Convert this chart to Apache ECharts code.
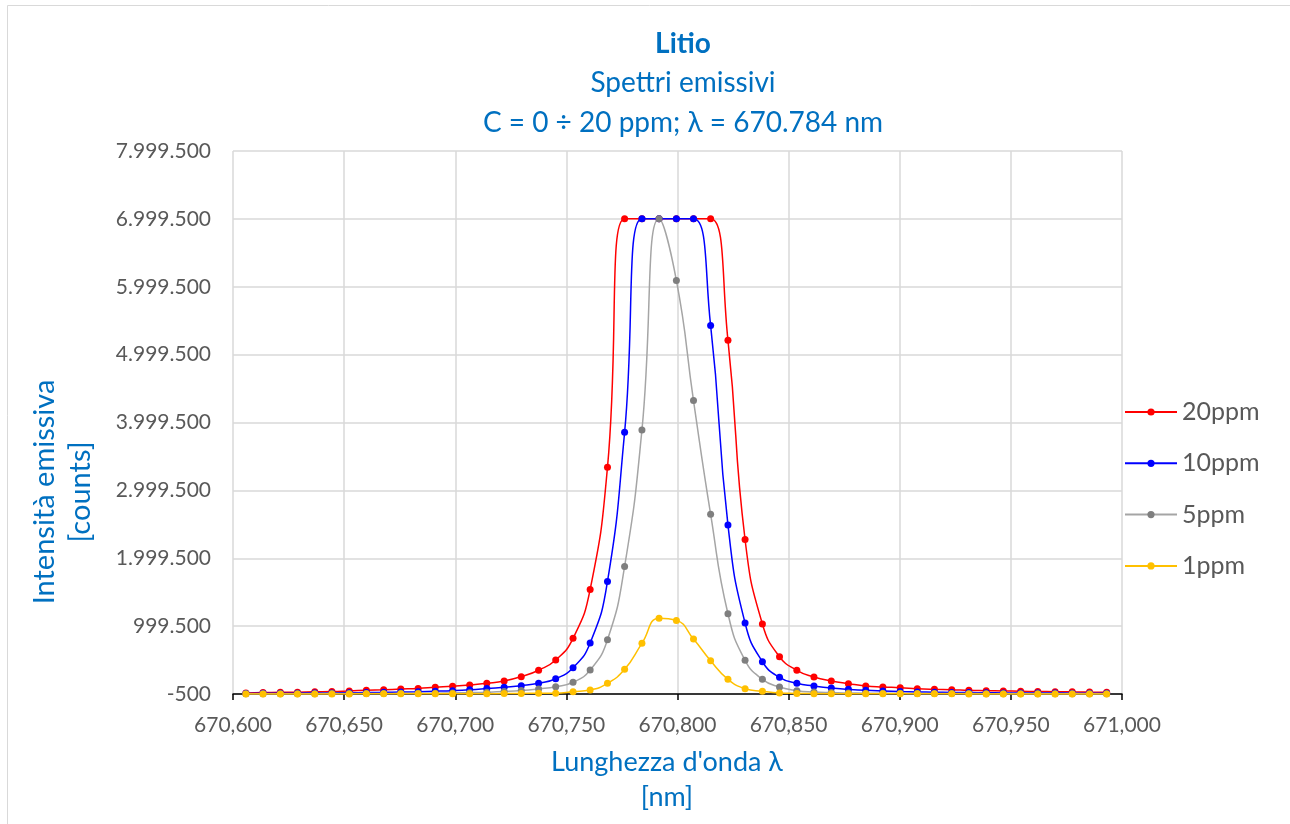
<!DOCTYPE html>
<html>
<head>
<meta charset="utf-8">
<script src="https://cdn.jsdelivr.net/npm/echarts@6/dist/echarts.min.js"></script>
<style>
html,body{margin:0;padding:0;background:#fff;}
#chart{width:1290px;height:824px;}
</style>
</head>
<body>
<div id="chart"></div>
<script>
// Wavelengths (nm) of the sampled points
const wavelengths = [
  670.6058, 670.6135, 670.6213, 670.6290, 670.6368, 670.6445, 670.6523, 670.6600, 670.6678, 670.6755,
  670.6833, 670.6910, 670.6988, 670.7065, 670.7142, 670.7220, 670.7297, 670.7375, 670.7452, 670.7530,
  670.7607, 670.7685, 670.7762, 670.7840, 670.7917, 670.7995, 670.8072, 670.8149, 670.8227, 670.8304,
  670.8382, 670.8459, 670.8537, 670.8614, 670.8692, 670.8769, 670.8847, 670.8924, 670.9002, 670.9079,
  670.9156, 670.9234, 670.9311, 670.9389, 670.9466, 670.9544, 670.9621, 670.9699, 670.9776, 670.9854,
  670.9931
];
const seriesNames = ['20ppm', '10ppm', '5ppm', '1ppm'];
// Emission intensity (counts)
const ppm20 = [
  15000, 20000, 24000, 27000, 32000, 36000, 45000, 55000, 62000, 72000,
  82000, 98000, 113000, 132000, 157000, 191000, 255000, 350000, 500000, 820000,
  1540000, 3340000, 7000000, 7000000, 7000000, 7000000, 7000000, 7000000, 5213000, 2276000,
  1030000, 549000, 349000, 250000, 191000, 152000, 118000, 103000, 93000, 78000,
  69000, 63000, 54000, 49000, 44000, 40000, 36000, 34000, 31000, 29000,
  26000
];
const ppm10 = [
  8000, 10000, 11000, 12000, 13000, 15000, 18000, 21000, 24000, 28000,
  33000, 40000, 49000, 62000, 80000, 100000, 122000, 157000, 225000, 387000,
  750000, 1658000, 3855000, 7000000, 7000000, 7000000, 7000000, 5430000, 2491000, 1045000,
  475000, 245000, 157000, 118000, 88000, 69000, 54000, 44000, 36000, 30000,
  26000, 23000, 20000, 18000, 16000, 15000, 14000, 13000, 12000, 11000,
  10000
];
const ppm5 = [
  3000, 3500, 4000, 4500, 5000, 5500, 6000, 7000, 8000, 9000,
  10000, 12000, 15000, 19000, 25000, 35000, 50000, 75000, 107000, 172000,
  353000, 799000, 1879000, 3889000, 7000000, 6092000, 4322000, 2649000, 1182000, 496000,
  216000, 102000, 49000, 29000, 20000, 15000, 12000, 10000, 9000, 8000,
  7000, 6000, 5500, 5000, 4500, 4000, 3500, 3000, 3000, 2500,
  2500
];
const ppm1 = [
  1000, 1000, 1000, 1000, 1000, 1200, 1300, 1400, 1500, 1700,
  1800, 2000, 2500, 3000, 4000, 6000, 8000, 10000, 12000, 34000,
  59000, 157000, 363000, 746000, 1114000, 1084000, 809000, 490000, 216000, 78000,
  40000, 15000, 8000, 5000, 4000, 3000, 2500, 2000, 2000, 1500,
  1500, 1500, 1200, 1200, 1000, 1000, 1000, 1000, 1000, 1000,
  1000
];
const seriesValues = [ppm20, ppm10, ppm5, ppm1];
const lineColors = ['#FF0000', '#0000FF', '#A5A5A5', '#FFC000'];
const markerColors = ['#FF0000', '#0000FF', '#7F7F7F', '#FFC000'];

const titleLines = ['Litio', 'Spettri emissivi', 'C = 0 ÷ 20 ppm; λ = 670.784 nm'];
const xAxisTitle = "Lunghezza d'onda λ\n[nm]";
const yAxisTitle = 'Intensità emissiva\n[counts]';

const FONT = 'Lato, "Open Sans", sans-serif';
const BLUE_TXT = '#0070C0';

function itFormat(v) {
  const r = Math.round(v);
  const s = String(Math.abs(r)).replace(/\B(?=(\d{3})+(?!\d))/g, '.');
  return (r < 0 ? '-' : '') + s;
}

const chart = echarts.init(document.getElementById('chart'));
const option = {
  animation: false,
  backgroundColor: '#ffffff',
  grid: { left: 233, right: 168, top: 151, bottom: 130, containLabel: false },
  xAxis: {
    type: 'value',
    min: 670.6, max: 671.0, interval: 0.05,
    axisLine: { show: true, onZero: false, lineStyle: { color: '#000000', width: 1.5 } },
    axisTick: { show: true, inside: false, length: 6, lineStyle: { color: '#000000', width: 1.5 } },
    splitLine: { show: true, lineStyle: { color: '#D9D9D9', width: 1.5 } },
    axisLabel: {
      margin: 21, color: '#595959', fontSize: 21, fontFamily: FONT,
      formatter: v => v.toFixed(3).replace('.', ',')
    }
  },
  yAxis: {
    type: 'value',
    min: -500, max: 7999500, interval: 1000000,
    axisLine: { show: false },
    axisTick: { show: false },
    splitLine: { show: true, lineStyle: { color: '#D9D9D9', width: 1.5 } },
    axisLabel: { margin: 22, color: '#595959', fontSize: 21, fontFamily: FONT, formatter: itFormat }
  },
  legend: {
    data: seriesNames,
    orient: 'vertical',
    left: 1124, top: 399, padding: 0,
    itemWidth: 52, itemHeight: 9, itemGap: 25.3,
    textStyle: { color: '#595959', fontSize: 25, fontFamily: FONT, lineHeight: 26 }
  },
  graphic: [
    { type: 'rect', silent: true, shape: { x: 7.5, y: 5.5, width: 1300, height: 840 },
      style: { fill: 'none', stroke: '#D9D9D9', lineWidth: 1 } },
    { type: 'text', x: 683, y: 44, style: { text: titleLines[0], fill: BLUE_TXT, font: 'bold 28px ' + FONT, align: 'center', verticalAlign: 'middle' } },
    { type: 'text', x: 683, y: 83, style: { text: titleLines[1], fill: BLUE_TXT, font: '28px ' + FONT, align: 'center', verticalAlign: 'middle' } },
    { type: 'text', x: 683, y: 123, style: { text: titleLines[2], fill: BLUE_TXT, font: '28px ' + FONT, align: 'center', verticalAlign: 'middle' } },
    { type: 'text', x: 667, y: 780, style: { text: xAxisTitle, fill: BLUE_TXT, font: '27px ' + FONT, lineHeight: 35, align: 'center', verticalAlign: 'middle' } },
    { type: 'text', x: 63, y: 492, rotation: Math.PI / 2, style: { text: yAxisTitle, fill: BLUE_TXT, font: '29px ' + FONT, lineHeight: 36, align: 'center', verticalAlign: 'middle' } }
  ],
  series: seriesNames.map((name, k) => ({
    name: name,
    type: 'line',
    data: wavelengths.map((x, i) => [x, seriesValues[k][i]]),
    smooth: 0.5,
    symbol: 'circle',
    symbolSize: 7,
    showSymbol: true,
    lineStyle: { color: lineColors[k], width: 1.5 },
    itemStyle: { color: markerColors[k] },
    emphasis: { disabled: true },
    z: 2 + k
  }))
};
chart.setOption(option);
</script>
</body>
</html>
